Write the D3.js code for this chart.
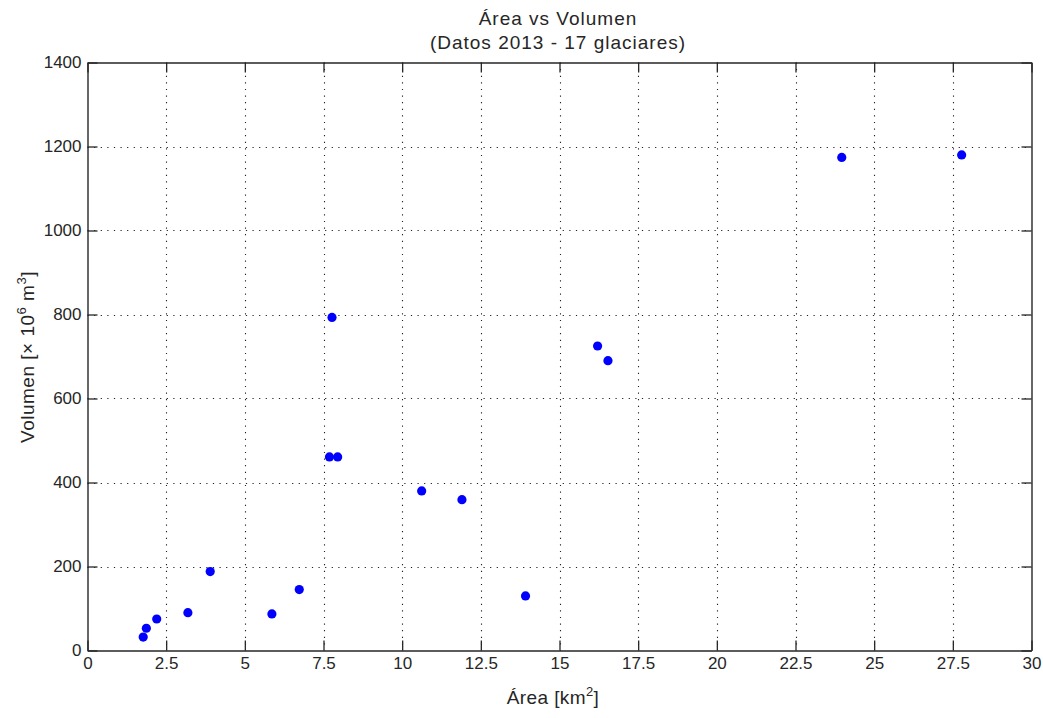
<!DOCTYPE html>
<html><head><meta charset="utf-8">
<script src="https://cdn.jsdelivr.net/npm/d3@7"></script>
<style>body{margin:0;background:#fff;} text{font-family:"Liberation Sans",Arial,sans-serif;fill:#262626;}</style>
</head><body>
<svg id="c" width="1043" height="718"></svg>
<script>
const areaKm2 = [1.77, 1.87, 2.20, 3.19, 3.90, 5.86, 6.73, 7.77, 7.69, 7.95, 10.62, 11.90, 13.92, 16.21, 16.54, 23.97, 27.78];
const volumen = [32, 53, 75, 90, 188, 87, 145, 793, 461, 461, 380, 359, 130, 725, 690, 1174, 1180];
const xTicks = [0, 2.5, 5, 7.5, 10, 12.5, 15, 17.5, 20, 22.5, 25, 27.5, 30];
const xTickLabels = ["0","2.5","5","7.5","10","12.5","15","17.5","20","22.5","25","27.5","30"];
const yTicks = [0, 200, 400, 600, 800, 1000, 1200, 1400];

(function () {
const svg = d3.select("#c");
const L = 87.5, R = 1031.5, T = 62.5, B = 650.5;
const x = d3.scaleLinear().domain([0, 30]).range([L, R]);
const y = d3.scaleLinear().domain([0, 1400]).range([B, T]);
const axisCol = "#262626";

// grid
const g = svg.append("g");
g.selectAll(".vg").data(xTicks.slice(1, -1)).join("line")
  .attr("x1", d => Math.round(x(d)) + 0.5).attr("x2", d => Math.round(x(d)) + 0.5)
  .attr("y1", T).attr("y2", B)
  .attr("stroke", "#222").attr("stroke-width", 1.1).attr("stroke-dasharray", "1.2,5.4");
g.selectAll(".hg").data(yTicks.slice(1, -1)).join("line")
  .attr("y1", d => Math.round(y(d)) + 0.5).attr("y2", d => Math.round(y(d)) + 0.5)
  .attr("x1", L).attr("x2", R)
  .attr("stroke", "#222").attr("stroke-width", 1.1).attr("stroke-dasharray", "1.2,5.4");

// axes
const fmtX = d => xTickLabels[xTicks.indexOf(d)];
const axB = svg.append("g").attr("transform", `translate(0,${B})`)
  .call(d3.axisBottom(x).tickValues(xTicks).tickFormat(fmtX).tickSizeInner(-10).tickSizeOuter(0).tickPadding(6));
const axT = svg.append("g").attr("transform", `translate(0,${T})`)
  .call(d3.axisTop(x).tickValues(xTicks).tickFormat("").tickSizeInner(-10).tickSizeOuter(0));
const axL = svg.append("g").attr("transform", `translate(${L},0)`)
  .call(d3.axisLeft(y).tickValues(yTicks).tickFormat(d3.format("d")).tickSizeInner(-10).tickSizeOuter(0).tickPadding(6));
const axR = svg.append("g").attr("transform", `translate(${R},0)`)
  .call(d3.axisRight(y).tickValues(yTicks).tickFormat("").tickSizeInner(-10).tickSizeOuter(0));
[axB, axT, axL, axR].forEach(a => {
  a.select(".domain").attr("stroke", axisCol).attr("stroke-width", 1.4);
  a.selectAll(".tick line").attr("stroke", axisCol).attr("stroke-width", 1.3);
  a.selectAll("text").attr("font-size", 17).attr("fill", axisCol).attr("font-family", "Liberation Sans, Arial, sans-serif");
});
axB.selectAll("text").attr("dy", "0.75em");

// points
svg.append("g").selectAll("circle").data(areaKm2).join("circle")
  .attr("cx", d => x(d)).attr("cy", (d, i) => y(volumen[i]))
  .attr("r", 4.6).attr("fill", "#0000ff");

// titles
svg.append("text").attr("x", 558).attr("y", 25).attr("text-anchor", "middle").attr("font-size", 19).attr("letter-spacing", 1).text("Área vs Volumen");
svg.append("text").attr("x", 558).attr("y", 49).attr("text-anchor", "middle").attr("font-size", 19).attr("letter-spacing", 1).text("(Datos 2013 - 17 glaciares)");

// x label
const xl = svg.append("text").attr("x", 553).attr("y", 704).attr("text-anchor", "middle").attr("font-size", 19).attr("letter-spacing", 0.4);
xl.append("tspan").text("Área [km");
xl.append("tspan").attr("dy", -8).attr("font-size", 13).text("2");
xl.append("tspan").attr("dy", 8).text("]");

// y label
const yl = svg.append("text").attr("transform", "translate(34,357) rotate(-90)").attr("text-anchor", "middle").attr("font-size", 19).attr("letter-spacing", 0.5);
yl.append("tspan").text("Volumen [× 10");
yl.append("tspan").attr("dy", -8).attr("font-size", 13).text("6");
yl.append("tspan").attr("dy", 8).text(" m");
yl.append("tspan").attr("dy", -8).attr("font-size", 13).text("3");
yl.append("tspan").attr("dy", 8).text("]");
})();
</script>
</body></html>
